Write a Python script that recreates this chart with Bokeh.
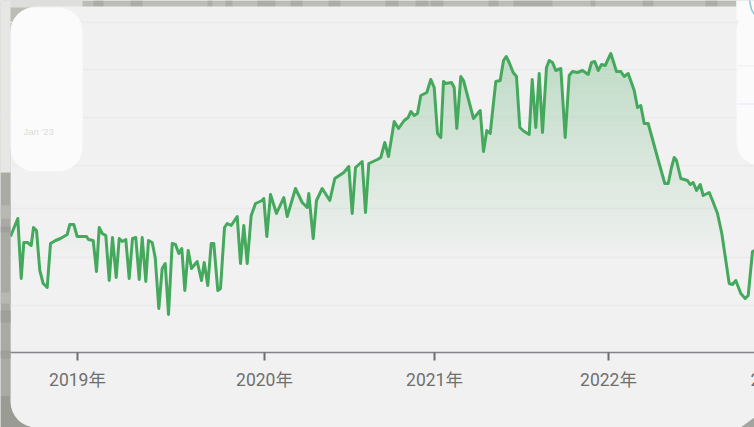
import numpy as np
from bokeh.plotting import figure
from bokeh.models import BoxAnnotation, FixedTicker, Range1d
from bokeh.core.properties import value
from bokeh.embed import file_html
from bokeh.resources import INLINE

week_pos = [10,17.3,20.7,23.3,27,30.7,33,36,39.3,42.7,46.7,50,55,60,66.7,69.3,73.3,76.7,86,88,92.7,96,98.7,101.7,105.3,108.7,112,115.7,118.7,121.7,125.3,128.7,132,135.3,138.7,141.7,145.3,148,151.7,154.7,158.3,161.7,164.7,168,171.7,175,178.3,181.3,184.3,187.7,191,196.7,201,203.7,207.3,210.7,213.3,217.3,220,224,226.7,230.7,236.7,240,243.3,246.7,250.7,255,261.7,263.3,266.3,270,276,283.3,286.7,295,301.7,306.7,308.3,312.7,316,321.7,329.3,334.3,343.3,348.3,351.7,355,361.7,365,368.3,377,380.3,384.3,388,393.7,398,403.7,407.7,410.3,413.7,417,420.3,426.3,430.3,433.7,437,440.3,443,445.3,451,453.7,456.3,460.3,463,473,479.7,483,486.3,489.7,495.3,499.7,503,505.7,508.7,512.7,516,519.3,523.7,528.7,531.7,535.3,538.7,542,546,548.7,552,555.3,560.3,564.7,568.7,572,577,582,587.7,591,594.3,597.7,601,604.7,610.3,616,620.3,623.7,627.7,633.7,637,640.3,643.7,647.7,657,664.3,667.7,671,673.7,676,680.3,687,689.7,692.7,696,699.7,702.7,708.7,712,717,721.3,728.7,732,735.3,740.3,744.7,747.7,752,754]
series = [116,134,74,110,110,107,125,122,82,69,65,109,112,114,118,128,128,116,116,113,112,81,125,119,117,72,115,75,114,111,113,74,114,115,73,115,71,112,110,95,44,84,89,38,109,108,99,104,62,102,84,91,72,90,67,109,109,62,64,125,129,127,136,89,127,89,137,149,152,154,116,158,139,155,136,164,150,145,159,114,152,164,152,174,180,186,139,185,191,140,189,193,195,210,196,231,224,232,235,241,237,239,257,260,273,265,219,215,271,269,270,265,224,276,272,234,242,201,222,219,271,272,292,296,290,280,276,225,221,218,273,225,279,220,285,292,290,282,284,215,277,281,280,282,278,290,291,282,288,287,299,281,281,276,279,262,245,247,229,229,195,169,169,185,195,192,174,172,168,170,162,168,157,160,152,139,119,69,68,72,59,54,57,101,102]
tick_pos = [77, 264, 434, 608]
tick_labels = ["2019年", "2020年", "2021年", "2022年"]
next_tick_pos = 750
next_tick_label = "2"
grid_values = [47, 95, 144, 187, 235, 283, 330]
panel_label = "Jan '23"

FONT = "Roboto, 'Noto Sans CJK SC', sans-serif"
GREEN = "#45a95d"
H = 427

p = figure(width=754, height=H, output_backend="svg", toolbar_location=None,
           x_range=Range1d(0, 754), y_range=Range1d(-75, 352),
           min_border=0, outline_line_color=None, background_fill_color="#bdbdb7",
           border_fill_color="#bdbdb7")
p.styles = {"position": "absolute", "left": "0px", "top": "0px"}

def box(l, r, t, b, color, radius=0, level="image"):
    p.add_layout(BoxAnnotation(left=l, right=r, top=H - t, bottom=H - b, left_units="screen", right_units="screen",
                               top_units="screen", bottom_units="screen", fill_color=color, fill_alpha=1,
                               line_color=None, border_radius=radius, level=level, editable=False))

# backdrop seen round the card
for l, r in [(93,103),(130,142),(207,212),(225,232),(257,275),(290,302),(328,340),(385,398),
             (415,428),(430,443),(488,498),(513,552),(590,595),(642,653),(705,717)]:
    box(l, r, 0, 7, "#adada7")
box(0, 82, 0, 7, "#dededc")
box(736, 754, 0, 7, "#f8f8f8")
box(0, 40, 395, 427, "#9b9b96")
box(10, 790, 6, 427, "#f1f1f1", 26)

# left strip stays above the grid and axis
box(0, 10, 172, 395, "#aaaaa4", 0, "annotation")
for t, b in [(205, 218), (292, 303)]:
    box(0, 10, t, b, "#b8b8b2", 0, "annotation")
for t, b in [(226, 232), (350, 358), (310, 322)]:
    box(0, 10, t, b, "#a0a09b", 0, "annotation")
box(0, 10, 0, 172, "#e6e6e4", 0, "annotation")
box(0, 10, 118, 119, "#dfe6f2", 0, "annotation")

# rounded panels above the card
box(10, 82, 7, 171, "#fbfbfb", 24, "annotation")
box(736, 790, 7, 165, "#fbfbfb", 24, "annotation")
box(736, 754, 0, 20, "#fbfbfb", 0, "annotation")
box(737, 754, 103, 104, "#e3eaf6", 0, "annotation")
box(737, 754, 65, 66, "#eeeeee", 0, "annotation")

p.xgrid.visible = False
p.ygrid.ticker = FixedTicker(ticks=grid_values)
p.ygrid.grid_line_color = "#ebebeb"
p.ygrid.grid_line_width = 1.5
p.ygrid.level = "underlay"

ax = p.xaxis[0]
ax.fixed_location = 0
ax.ticker = FixedTicker(ticks=tick_pos)
ax.major_label_overrides = dict(zip(tick_pos, tick_labels))
ax.axis_line_color = "#84848a"
ax.axis_line_width = 1.5
ax.major_tick_line_color = "#6e6e6e"
ax.major_tick_line_width = 2
ax.major_tick_out = 8
ax.major_tick_in = 0
ax.minor_tick_line_color = None
ax.major_label_text_font = FONT
ax.major_label_text_font_size = "17.5px"
ax.major_label_text_color = "#6f6f6f"
ax.major_label_standoff = 9
p.yaxis.visible = False

# vertical gradient under the line, as thin bands
fine_x = np.arange(week_pos[0], week_pos[-1] + 0.01, 0.5)
fine_y = np.interp(fine_x, week_pos, series)
for lo in range(90, 300, 3):
    hi = lo + 3
    a = 0.30 * (lo - 90) / 210
    p.varea(x=fine_x, y1=np.minimum(fine_y, lo), y2=np.minimum(fine_y, hi), fill_color=GREEN, fill_alpha=a)

p.line(week_pos, series, line_color=GREEN, line_width=3, line_join="round")

# sliver of the neighbouring card's curve, top right; gray at the card's bottom-right corner
p.line([749, 751, 754], [352, 343, 338], line_color="#8cc9d8", line_width=1.5, level="overlay")
p.patch([740, 754, 754], [-75, -65, -75], fill_color="#a5a5a0", line_color=None)

p.text(x=[next_tick_pos], y=[-27], text=[next_tick_label], text_font=value(FONT), text_font_size="17.5px",
       text_color="#6f6f6f", text_align="left", text_baseline="middle")
p.text(x=[23], y=[221], text=[panel_label], text_font=value("Liberation Sans"), text_font_size="9.5px",
       text_color="#dcdcdc", text_align="left", text_baseline="middle", level="overlay")

open("out.html", "w").write(file_html(p, INLINE))
